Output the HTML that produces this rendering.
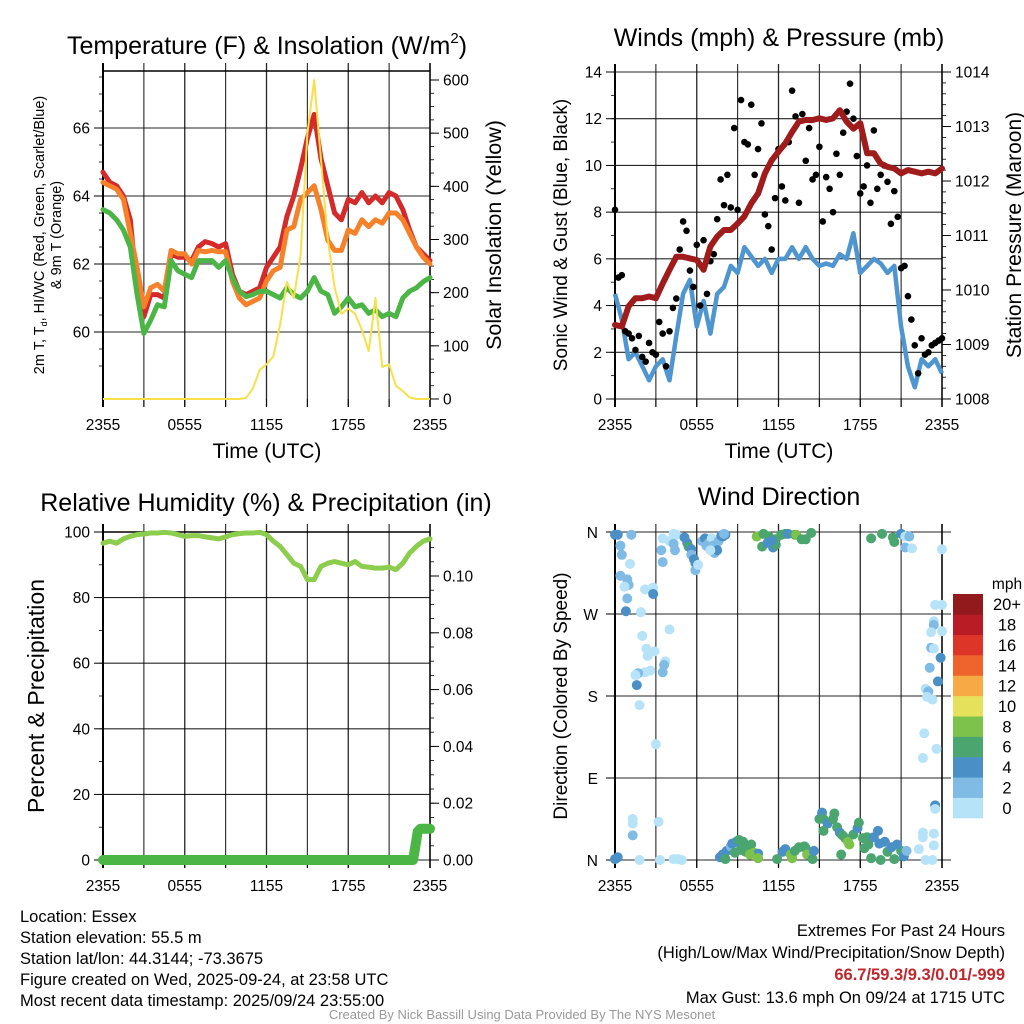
<!DOCTYPE html>
<html><head><meta charset="utf-8"><style>
html,body{margin:0;padding:0;background:#fff;}
svg{display:block;font-family:"Liberation Sans",Arial,sans-serif;}
</style></head><body>
<svg id="chart" width="1024" height="1024" viewBox="0 0 1024 1024" xmlns="http://www.w3.org/2000/svg">
<rect width="1024" height="1024" fill="#fff"/>
<g id="p1"></g>
<g id="p2"></g>
<g id="p3"></g>
<g id="p4"></g>

<text x="267" y="54" font-size="25" text-anchor="middle">Temperature (F) &amp; Insolation (W/m<tspan font-size="15" dy="-11">2</tspan><tspan dy="11">)</tspan></text>
<text x="779" y="46" font-size="25" text-anchor="middle">Winds (mph) &amp; Pressure (mb)</text>
<text x="266" y="511" font-size="25" text-anchor="middle">Relative Humidity (%) &amp; Precipitation (in)</text>
<text x="779" y="505" font-size="25" text-anchor="middle">Wind Direction</text>

<text x="267" y="458" font-size="21" text-anchor="middle">Time (UTC)</text>
<text x="779" y="458" font-size="21" text-anchor="middle">Time (UTC)</text>

<text transform="translate(44,235) rotate(-90)" font-size="14.5" text-anchor="middle">2m T, T<tspan font-size="9" dy="3">d</tspan><tspan dy="-3">, HI/WC (Red, Green, Scarlet/Blue)</tspan></text>
<text transform="translate(61,235) rotate(-90)" font-size="14.5" text-anchor="middle">&amp; 9m T (Orange)</text>
<text transform="translate(501,235) rotate(-90)" font-size="21.5" text-anchor="middle">Solar Insolation (Yellow)</text>
<text transform="translate(567,235) rotate(-90)" font-size="19" text-anchor="middle">Sonic Wind &amp; Gust (Blue, Black)</text>
<text transform="translate(1021,235) rotate(-90)" font-size="21" text-anchor="middle">Station Pressure (Maroon)</text>
<text transform="translate(44,696) rotate(-90)" font-size="23" text-anchor="middle">Percent &amp; Precipitation</text>
<text transform="translate(567,696) rotate(-90)" font-size="19" text-anchor="middle">Direction (Colored By Speed)</text>

<g font-size="16.5">
<text x="20" y="922">Location: Essex</text>
<text x="20" y="943">Station elevation: 55.5 m</text>
<text x="20" y="964">Station lat/lon: 44.3144; -73.3675</text>
<text x="20" y="985">Figure created on Wed, 2025-09-24, at 23:58 UTC</text>
<text x="20" y="1006">Most recent data timestamp: 2025/09/24 23:55:00</text>
</g>
<g font-size="16.5" text-anchor="end">
<text x="1005" y="936">Extremes For Past 24 Hours</text>
<text x="1005" y="958">(High/Low/Max Wind/Precipitation/Snow Depth)</text>
<text x="1005" y="980" fill="#c0282d" font-weight="bold">66.7/59.3/9.3/0.01/-999</text>
<text x="1005" y="1003">Max Gust: 13.6 mph On 09/24 at 1715 UTC</text>
</g>
<text x="522" y="1019" font-size="13" fill="#999" text-anchor="middle">Created By Nick Bassill Using Data Provided By The NYS Mesonet</text>
</svg>
<script>
// ---- data (30-minute steps, hours 0..24) ----
const halfHours = [];
for (let i = 0; i <= 48; i++) halfHours.push(i / 2);
const xTickLabels = ["2355","0555","1155","1755","2355"];
const tempRed = [64.7,64.4,64.3,64.0,63.3,61.2,60.45,61.1,61.1,61.0,62.3,62.2,62.2,62.1,62.5,62.66,62.6,62.5,62.6,61.7,61.2,61.1,61.2,61.3,61.9,62.2,62.5,63.4,64.0,64.8,65.7,66.4,65.1,64.3,63.5,63.3,63.9,63.8,64.1,63.8,64.0,63.8,64.1,64.0,63.6,63.0,62.5,62.3,62.1];
const tempOrange = [64.4,64.3,64.2,63.9,62.9,61.9,60.74,61.3,61.4,61.2,62.4,62.3,62.3,62.0,62.4,62.36,62.4,62.36,62.36,61.5,61.0,60.8,60.9,61.0,61.5,61.8,61.9,63.0,63.1,63.9,64.1,64.3,63.6,62.7,62.4,62.4,63.0,62.9,63.3,63.1,63.3,63.2,63.5,63.5,63.3,62.9,62.5,62.2,62.0];
const tempGreen = [63.6,63.5,63.3,63.0,62.5,61.1,59.96,60.35,60.8,60.74,62.1,61.8,61.7,61.6,62.1,62.1,62.1,61.9,62.1,61.6,61.2,61.04,61.1,61.2,61.2,61.1,61.0,61.3,61.1,61.0,61.2,61.6,61.2,61.1,60.55,60.74,61.0,60.74,60.8,60.55,60.65,60.45,60.55,60.45,61.0,61.2,61.3,61.48,61.6];
const solar = [0,0,0,0,0,0,0,0,0,0,0,0,0,0,0,0,0,0,0,0,0,2,20,55,65,80,140,220,190,270,500,600,450,300,210,160,170,160,130,90,190,60,65,25,15,3,0,0,0];
const tempTicks = [60,62,64,66];
const solarTicks = [0,100,200,300,400,500,600];

const pressure = [1009.36,1009.33,1009.70,1009.85,1009.85,1009.88,1009.85,1010.12,1010.37,1010.61,1010.61,1010.58,1010.55,1010.37,1010.80,1010.98,1011.10,1011.10,1011.22,1011.35,1011.59,1011.77,1012.14,1012.38,1012.54,1012.69,1012.90,1013.09,1013.12,1013.12,1013.15,1013.12,1013.15,1013.30,1013.09,1012.96,1013.06,1012.51,1012.51,1012.32,1012.26,1012.23,1012.14,1012.20,1012.17,1012.14,1012.17,1012.14,1012.23];
const windSpeed = [4.5,3.4,1.7,2.0,1.4,0.8,1.4,1.7,0.8,2.7,4.5,5.1,3.1,4.2,2.8,4.5,4.8,5.7,5.4,6.5,6.1,5.7,6.0,5.4,6.0,6.0,6.5,6.0,6.5,6.0,5.7,5.8,5.7,6.2,6.0,7.1,5.4,5.7,6.0,5.8,5.4,5.7,3.1,1.4,0.5,1.7,1.4,1.7,1.1];
const gust = [8.1,5.2,5.3,2.9,2.8,2.6,2.1,2.7,1.8,1.6,2.4,2.0,1.9,3.3,2.8,1.4,2.9,3.9,4.3,6.4,7.6,7.2,5.5,4.8,6.6,4.0,6.8,4.5,5.9,6.2,7.7,9.4,8.3,9.6,8.2,11.6,8.1,12.8,11.0,10.9,12.6,9.6,10.7,11.8,7.9,7.4,6.4,8.6,10.7,9.1,8.5,11.0,13.2,12.1,8.4,12.2,10.2,11.6,9.4,9.6,10.8,7.6,9.5,9.0,8.0,10.5,9.6,11.4,12.3,13.5,12.0,10.4,8.8,9.1,10.0,8.4,11.5,9.0,9.6,10.0,9.3,7.5,8.9,7.8,5.6,5.7,4.4,3.4,2.3,1.1,2.6,1.9,2.0,2.3,2.4,2.5,2.6];
const windTicks = [0,2,4,6,8,10,12,14];
const pressureTicks = [1008,1009,1010,1011,1012,1013,1014];

const humidity = [96.6,97.2,96.6,97.9,98.7,99.2,99.4,99.7,99.7,99.9,99.7,99.2,98.7,98.9,98.9,98.5,98.2,97.9,98.5,99.2,99.5,99.7,99.7,99.9,99.2,97.2,95.6,93.1,90.5,89.5,85.5,85.5,89.5,90.5,91.0,90.5,90.0,91.0,89.5,89.3,89.0,89.0,89.3,88.5,90.5,93.6,95.6,97.2,97.9];
const precipHours = [0,22.75,22.9,23.1,23.3,24];
const precipValues = [0,0,0.004,0.010,0.011,0.011];
const rhTicks = [0,20,40,60,80,100];
const precipTicks = ["0.00","0.02","0.04","0.06","0.08","0.10"];

const dirHours = [0.0,0.2,1.2,0.4,0.5,1.1,0.4,0.9,1.0,0.7,0.9,0.8,2.2,2.8,2.8,1.9,2.0,2.3,2.6,2.9,2.4,4.0,3.7,3.6,3.5,2.6,2.2,1.7,1.5,1.6,1.8,3.0,1.3,1.3,1.3,3.2,0.2,0.0,1.8,3.3,4.3,4.6,4.9,4.3,4.5,4.0,3.5,3.4,3.5,4.3,4.4,5.1,5.3,5.4,5.6,5.6,5.8,5.9,5.9,6.1,6.4,6.6,6.9,7.1,7.2,7.4,7.3,7.6,7.8,7.9,8.1,8.0,7.5,6.7,7.0,10.4,10.9,11.3,10.8,11.2,11.6,11.8,11.8,12.2,12.5,12.7,13.2,13.3,13.7,14.0,14.4,11.5,18.8,19.6,20.4,20.5,21.0,21.3,21.6,21.3,21.8,24.0,23.5,24.0,23.4,23.4,23.2,24.0,23.2,23.4,23.9,23.1,23.7,22.8,23.0,22.9,23.3,22.7,22.6,23.6,23.5,23.5,22.6,22.6,23.4,23.4,22.3,22.8,23.3,7.7,7.9,8.2,8.5,8.6,8.9,9.1,9.4,9.7,10.0,10.2,10.5,10.5,8.1,9.2,9.6,9.9,8.8,12.3,12.5,12.9,13.0,13.2,13.5,13.9,14.0,14.1,14.5,14.6,11.9,15.0,15.2,15.3,15.6,15.3,16.0,16.1,16.3,16.5,16.7,16.9,17.1,17.2,17.5,17.8,17.9,18.2,18.3,18.5,18.6,18.8,19.0,19.3,19.4,19.8,20.0,20.3,20.5,21.0,21.2,21.4,20.7,19.5,16.6];
const dirDegrees = [357,357,357,345,335,325,312,308,302,300,287,273,297,299,292,272,246,232,228,229,224,253,218,214,206,208,206,205,203,192,170,127,45,40,27,42,3,1,0,0,1,1,0,358,357,350,353,340,327,347,340,354,348,344,341,335,330,326,318,324,350,353,348,353,345,343,337,350,356,355,357,358,340,345,340,355,358,355,344,348,343,346,352,357,358,358,357,357,352,352,359,350,353,358,354,349,358,355,355,343,342,341,280,280,262,258,250,251,233,232,222,211,196,188,185,179,176,139,112,122,60,56,30,25,29,16,12,0,0,3,6,10,15,18,20,22,20,15,17,8,7,2,1,11,9,6,8,9,12,6,2,10,14,15,13,6,1,10,1,45,52,45,40,32,45,51,36,30,27,24,20,17,28,35,41,24,13,25,17,2,25,32,18,20,9,14,1,10,4,10,17,0,6];
const dirSpeeds = [4,4,2.5,3,3,1,3,3,3,1.5,3,4,1,1.5,4,1,1,1,1,1,1,1,1,3,3,1,1,3,1,4,1,1,1,1,3,1,4,4,1,1,1,1,1.5,1,1.5,1,1,3,3,3,3,4,4,6.5,4,3,4,4,2,1,3,4,2,1.5,3,2,3,3,4,4,4,3,4,2,1.5,8,6,6,6,4.5,4,6,6,6,6.5,4,6,9,6,6,6,4,6,6,6,6,4,1.5,2,3,1,1,1,1,1,3,1,1,3,1,4,3,4,1,3,1,1,1,1,1,4,1,1,1,1,1,1,1,1,4,4,4,2,4,4,6,6.5,6,6,8,4,8,6,6,7,8,7.5,4,4.5,8,8.5,6,6,6,6,8,6,4,6,6,4,6,4,6,6,6,6,4.5,6,6,8,8,6,4,6,6,6,6,6,6,4,4,4,4,6,4,6,6,4,3,4,6,6];
const dirTickLabels = ["N","E","S","W","N"];
const legendLabels = ["0","2","4","6","8","10","12","14","16","18","20+"];
const legendColors = ["#b6e3f8","#7fbbe5","#4a8fc6","#4aa56f","#7cc24b","#e6e15a","#f6a944","#ef642c","#dd3629","#b91c24","#92191c"];

// ---- helpers ----
const NS = "http://www.w3.org/2000/svg";
function mk(parent, tag, attrs, text) {
  const e = document.createElementNS(NS, tag);
  for (const k in attrs) e.setAttribute(k, attrs[k]);
  if (text !== undefined) e.textContent = text;
  parent.appendChild(e);
  return e;
}
function lin(d0, d1, r0, r1) { return v => r0 + (v - d0) * (r1 - r0) / (d1 - d0); }

function frame(g, L, R, T, B, x, hLines, leftTicks, leftFmt, minorStep, yL, rightTicks, rightFmt, rightMinor, yR, gridExt) {
  for (let h = 0; h <= 24; h += 3) {
    const ln = mk(g, "line", {x1: x(h), x2: x(h), y1: T - 8, y2: B + 8, stroke: "#000", "stroke-width": (h % 6 === 0 && h > 0 && h < 24) ? 1.3 : 1.1, opacity: 0.85});
    
    
  }
  hLines.forEach(v => {
    const ln = mk(g, "line", {x1: L, x2: gridExt || R, y1: yL(v), y2: yL(v), stroke: "#000", "stroke-width": 1.1, opacity: 0.85});
    
    
  });
  mk(g, "line", {x1: L, x2: L, y1: T - 8, y2: B + 8, stroke: "#000", "stroke-width": 2});
  mk(g, "line", {x1: R, x2: R, y1: T - 8, y2: B + 8, stroke: "#000", "stroke-width": 1.5});
  leftTicks.forEach(v => {
    mk(g, "line", {x1: L - 9, x2: L, y1: yL(v), y2: yL(v), stroke: "#000", "stroke-width": 1});
    const t = mk(g, "text", {x: L - 13, y: yL(v) + 5.5, "font-size": 15.5, "text-anchor": "end"}, leftFmt(v));
    
    
  });
  if (minorStep) {
    for (let v = leftTicks[0] - 2 * minorStep; v <= leftTicks[leftTicks.length - 1] + 4 * minorStep; v += minorStep) {
      const yy = yL(v);
      if (yy >= T && yy <= B) mk(g, "line", {x1: L - 4, x2: L, y1: yy, y2: yy, stroke: "#000", "stroke-width": 0.8});
    }
  }
  if (rightTicks) {
    rightTicks.forEach(v => {
      mk(g, "line", {x1: R, x2: R + 9, y1: yR(v), y2: yR(v), stroke: "#000", "stroke-width": 1});
      const t = mk(g, "text", {x: R + 13, y: yR(+v) + 5.5, "font-size": 15.5}, rightFmt(v));
      
      
    });
    if (rightMinor) {
      for (let v = +rightTicks[0]; v <= +rightTicks[rightTicks.length - 1] + rightMinor * 3; v += rightMinor) {
        const yy = yR(v);
        if (yy >= T && yy <= B) mk(g, "line", {x1: R, x2: R + 4, y1: yy, y2: yy, stroke: "#000", "stroke-width": 0.8});
      }
    }
  }
  for (let h = 0; h <= 24; h += 3) mk(g, "line", {x1: x(h), x2: x(h), y1: B, y2: B + 8, stroke: "#000"});
  xTickLabels.forEach((lab, i) => {
    const t = mk(g, "text", {x: x(i * 6), y: B + 31, "font-size": 15.5, "text-anchor": "middle"}, lab);
    
    
  });
}
function pathOf(xs, ys, x, y) { return xs.map((h, i) => (i ? "L" : "M") + x(h).toFixed(1) + "," + y(ys[i]).toFixed(1)).join(""); }

// ---- Panel 1 ----
(function () {
  const g = document.getElementById("p1");
  const L = 103, R = 430, T = 71, B = 399;
  const x = lin(0, 24, L, R);
  const y = lin(60, 66, 332, 128);
  const ys = lin(0, 600, 399, 80);
  frame(g, L, R, T, B, x, [60, 62, 64, 66], tempTicks, v => String(v), 0.5, y, solarTicks, v => String(v), 25, ys);
  mk(g, "line", {x1: L, x2: R, y1: T, y2: T, stroke: "#000", "stroke-width": 1.5});
  [[tempRed, "#d42a2a", "temp-2m-line"], [tempOrange, "#f5822a", "temp-9m-line"], [tempGreen, "#4bb545", "dewpoint-line"]].forEach(s => {
    const p = mk(g, "path", {d: pathOf(halfHours, s[0], x, y), fill: "none", stroke: s[1], "stroke-width": 5, "stroke-linejoin": "round", "stroke-linecap": "round"});
    
    
  });
  const sp = mk(g, "path", {d: pathOf(halfHours, solar, x, ys), fill: "none", stroke: "#f7e04a", "stroke-width": 2, "stroke-linejoin": "round"});
  
  
})();

// ---- Panel 2 ----
(function () {
  const g = document.getElementById("p2");
  const L = 615, R = 942, T = 72, B = 399;
  const x = lin(0, 24, L, R);
  const y = lin(0, 14, 399, 72);
  const yp = lin(1008, 1014, 399, 72);
  frame(g, L, R, T, B, x, windTicks, windTicks, v => String(v), 1, y, pressureTicks, v => String(v), 0.2, yp);
  const wp = mk(g, "path", {d: pathOf(halfHours, windSpeed, x, y), fill: "none", stroke: "#4f96d1", "stroke-width": 4.5, "stroke-linejoin": "round"});
  
  
  gust.forEach((v, i) => {
    const c = mk(g, "circle", {cx: x(i / 4), cy: y(v), r: 3.3, fill: "#000"});
    
    
  });
  const pp = mk(g, "path", {d: pathOf(halfHours, pressure, x, yp), fill: "none", stroke: "#a01b1b", "stroke-width": 6, "stroke-linejoin": "round", "stroke-linecap": "round"});
  
  
})();

// ---- Panel 3 ----
(function () {
  const g = document.getElementById("p3");
  const L = 103, R = 430, T = 532, B = 860;
  const x = lin(0, 24, L, R);
  const y = lin(0, 100, 860, 532);
  const yr = lin(0, 0.10, 860, 576);
  frame(g, L, R, T, B, x, rhTicks, rhTicks, v => String(v), 10, y, precipTicks, v => v, 0.005, yr);
  mk(g, "line", {x1: L, x2: R, y1: T, y2: T, stroke: "#000", "stroke-width": 1.5});
  const hp = mk(g, "path", {d: pathOf(halfHours, humidity, x, y), fill: "none", stroke: "#8ccd4e", "stroke-width": 5, "stroke-linejoin": "round", "stroke-linecap": "round"});
  
  
  const pr = mk(g, "path", {d: pathOf(precipHours, precipValues, x, yr), fill: "none", stroke: "#4bb545", "stroke-width": 10, "stroke-linejoin": "round", "stroke-linecap": "round"});
  
  
})();

// ---- Panel 4 ----
(function () {
  const g = document.getElementById("p4");
  const L = 615, R = 942, T = 532, B = 860;
  const x = lin(0, 24, L, R);
  const y = lin(0, 360, 860, 532);
  frame(g, L, R, T, B, x, [0, 90, 180, 270, 360], [], v => "", 0, y, null, null, 0, null, 951);
  dirTickLabels.forEach((lab, i) => {
    mk(g, "line", {x1: L - 9, x2: L, y1: y(i * 90), y2: y(i * 90), stroke: "#000"});
    const t = mk(g, "text", {x: L - 17, y: y(i * 90) + 6, "font-size": 15.5, "text-anchor": "end"}, lab);
    
    
  });
  const colorFor = s => legendColors[Math.min(10, Math.floor(s / 2))];
  dirHours.forEach((h, i) => {
    const c = mk(g, "circle", {cx: x(h), cy: y(dirDegrees[i]), r: 5, fill: colorFor(dirSpeeds[i])});
    
    
  });
  const lg = mk(g, "g", {});
  
  
  const lt = mk(lg, "text", {x: 1007, y: 589, "font-size": 15.5, "text-anchor": "middle"}, "mph");
  
  
  const boxH = (818 - 594) / 11;
  legendLabels.forEach((lab, i) => {
    const yy = 818 - (i + 1) * boxH;
    const r = mk(lg, "rect", {x: 953, y: yy, width: 30, height: boxH + 0.3, fill: legendColors[i]});
    
    
    const t = mk(lg, "text", {x: 1007, y: yy + boxH / 2 + 6, "font-size": 16.5, "text-anchor": "middle"}, lab);
    
    
  });
})();
</script>
</body></html>
